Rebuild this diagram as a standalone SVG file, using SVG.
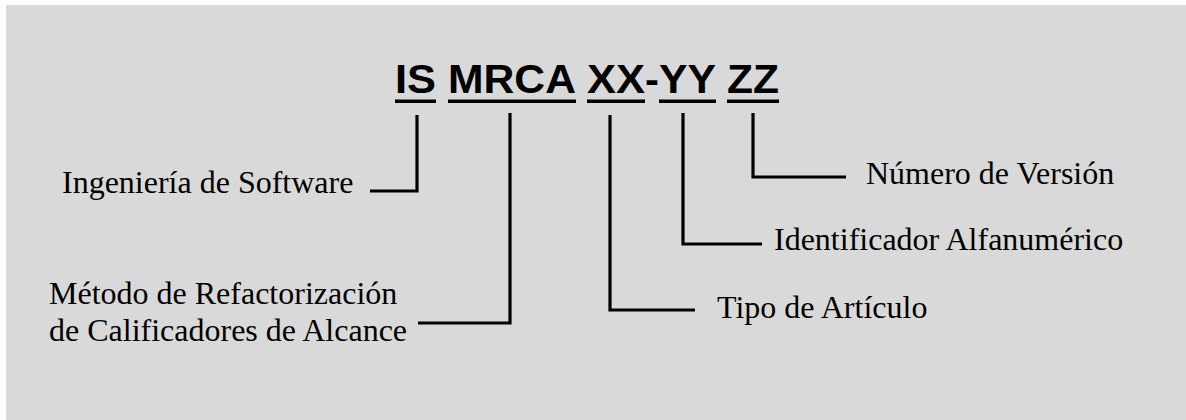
<svg xmlns="http://www.w3.org/2000/svg" width="1186" height="420" viewBox="0 0 1186 420">
<style>
.title{font-family:"Liberation Sans",Arial,sans-serif;font-weight:bold;font-size:40px;fill:#000}
.lbl{font-family:"Liberation Serif","Times New Roman",serif;font-size:32px;fill:#000}
.ul{fill:#000}
.conn path{fill:none;stroke:#000;stroke-width:3.2;stroke-linejoin:miter;stroke-linecap:butt}
</style>
<rect x="0" y="0" width="1186" height="420" fill="#ffffff"/>
<rect x="6" y="5" width="1180" height="415" fill="#d9d9d9"/>
<g id="title">
<text class="title" x="395" y="93" textLength="41" lengthAdjust="spacingAndGlyphs">IS</text>
<text class="title" x="448" y="93" textLength="128" lengthAdjust="spacingAndGlyphs">MRCA</text>
<text class="title" x="587" y="93" textLength="58" lengthAdjust="spacingAndGlyphs">XX</text>
<text class="title" x="645" y="93" textLength="14" lengthAdjust="spacingAndGlyphs">-</text>
<text class="title" x="659" y="93" textLength="57" lengthAdjust="spacingAndGlyphs">YY</text>
<text class="title" x="727" y="93" textLength="52" lengthAdjust="spacingAndGlyphs">ZZ</text>
<rect class="ul" x="395" y="99.5" width="41" height="3.5"/>
<rect class="ul" x="448" y="99.5" width="128" height="3.5"/>
<rect class="ul" x="587" y="99.5" width="58" height="3.5"/>
<rect class="ul" x="659" y="99.5" width="57" height="3.5"/>
<rect class="ul" x="727" y="99.5" width="52" height="3.5"/>
</g>
<g id="connectors" class="conn">
<path d="M417 115 V191 H370"/>
<path d="M510 113 V323 H418"/>
<path d="M610 115 V310 H695"/>
<path d="M683 113 V244 H762"/>
<path d="M753 113 V177 H846"/>
</g>
<g id="node-is"><text class="lbl" x="62" y="193">Ingeniería de Software</text></g>
<g id="node-mrca"><text class="lbl" x="49" y="304">Método de Refactorización</text><text class="lbl" x="49" y="341">de Calificadores de Alcance</text></g>
<g id="node-xx"><text class="lbl" x="717" y="318">Tipo de Artículo</text></g>
<g id="node-yy"><text class="lbl" x="774" y="250">Identificador Alfanumérico</text></g>
<g id="node-zz"><text class="lbl" x="866" y="184">Número de Versión</text></g>
</svg>
